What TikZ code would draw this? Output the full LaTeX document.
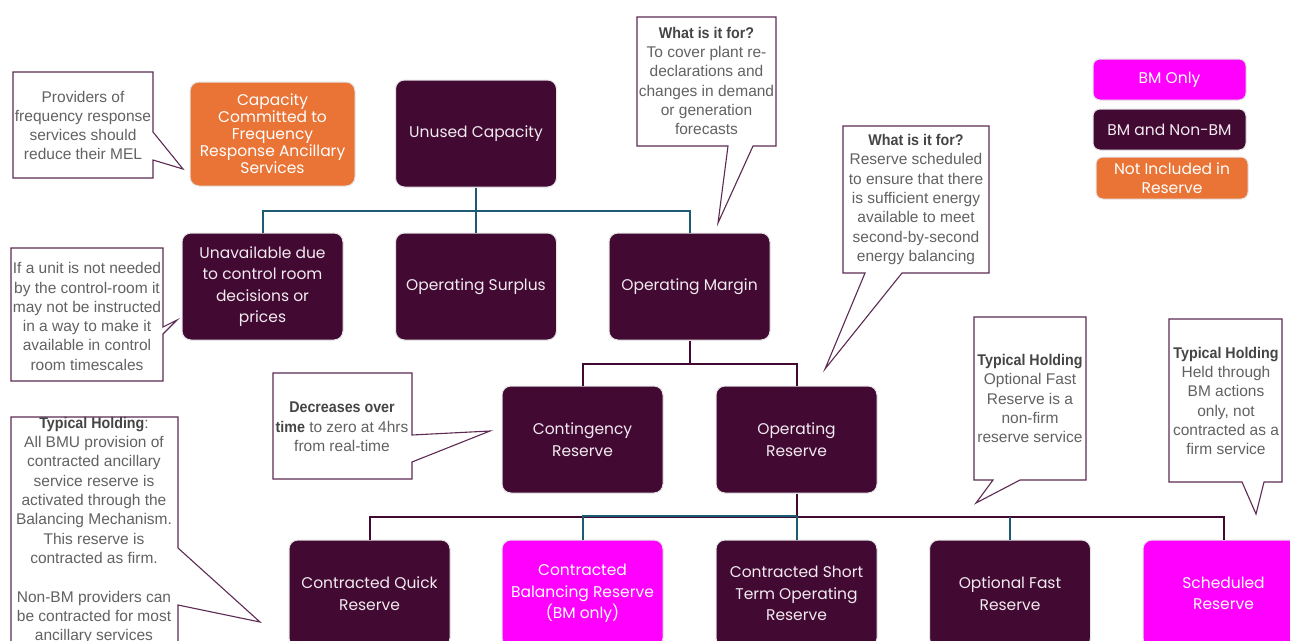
\documentclass[tikz,border=0pt]{standalone}
\usepackage{fontspec}
\setmainfont{Liberation Sans}
\newfontfamily\pop{Poppins}
\newfontfamily\semib[FakeStretch=0.92]{Liberation Sans}
\usetikzlibrary{calc}
\definecolor{dpurple}{HTML}{420A32}
\definecolor{orng}{HTML}{E97435}
\definecolor{magn}{HTML}{FF00FF}
\definecolor{tealc}{HTML}{1D5B74}
\definecolor{cborder}{HTML}{5C2A52}
\definecolor{ctext}{HTML}{626262}
\definecolor{chead}{HTML}{454545}
\definecolor{btext}{HTML}{F2EAF0}
\newcommand{\hd}[1]{\textcolor{chead}{\semib\bfseries #1}}
\begin{document}
\begin{tikzpicture}[x=1pt,y=-1pt,
 box/.style={rectangle, rounded corners=9pt, draw=black!10, line width=1pt, minimum width=161pt, minimum height=107pt, align=center, inner sep=2pt, font=\pop\fontsize{15.5}{21.5}\selectfont},
 dark/.style={box, fill=dpurple, text=btext},
 mag/.style={box, fill=magn, text=white},
 org/.style={box, fill=orng, text=white},
 leg/.style={minimum width=153pt, minimum height=41pt, rounded corners=7pt},
 call/.style={draw=cborder, line width=1.1pt, fill=white, line join=miter},
 ctxt/.style={align=center, text=ctext, font=\fontsize{15.5}{19.3}\selectfont, inner sep=0pt},
 tconn/.style={draw=tealc, line width=2pt},
 pconn/.style={draw=dpurple, line width=2pt},
]
\clip (0,0) rectangle (1290,640);
\fill[white] (0,0) rectangle (1290,640);

% boxes
\node[org, minimum width=165pt, minimum height=104pt, font=\pop\fontsize{15.5}{17}\selectfont] (cap) at (272.5,134) {Capacity\\Committed to\\Frequency\\Response Ancillary\\Services};
\node[dark] (unused) at (476,133.5) {Unused Capacity};
\node[dark] (unavail) at (262.5,286.5) {Unavailable due\\to control room\\decisions or\\prices};
\node[dark] (surplus) at (476,286.5) {Operating Surplus};
\node[dark] (margin) at (689.5,286.5) {Operating Margin};
\node[dark] (cont) at (582.5,439.5) {Contingency\\Reserve};
\node[dark] (opres) at (796.5,439.5) {Operating\\Reserve};
\node[dark] (cqr) at (369.5,593.5) {Contracted Quick\\Reserve};
\node[mag] (cbr) at (582.5,593.5) {Contracted\\Balancing Reserve\\(BM only)};
\node[dark] (cstor) at (796.5,593.5) {Contracted Short\\Term Operating\\Reserve};
\node[dark] (ofr) at (1010,593.5) {Optional Fast\\Reserve};
\node[mag] (sched) at (1223.5,593.5) {Scheduled\\Reserve};

% legend
\node[mag, leg] (l1) at (1169.5,79.5) {BM Only};
\node[dark, leg] (l2) at (1169.5,129.5) {BM and Non-BM};
\node[org, leg, minimum width=152pt, minimum height=42pt, font=\pop\fontsize{15.5}{19}\selectfont] (l3) at (1172,178) {Not Included in\\Reserve};

% connectors
\draw[tconn] (unused.south) -- ++(0,23) coordinate (j1) -| (unavail.north);
\draw[tconn] (j1) -| (margin.north);
\draw[tconn] (unused.south) -- (surplus.north);

\draw[pconn] (margin.south) -- ++(0,23) coordinate (j2) -| (cont.north);
\draw[pconn] (j2) -| (opres.north);

\draw[pconn] (opres.south) -- ++(0,23) coordinate (j3) -| (cqr.north);
\draw[pconn] (j3) -| (sched.north);
\draw[tconn] ([yshift=1pt]j3) -| (cbr.north);
\draw[tconn] ([yshift=1pt]j3) -- (cstor.north);
\draw[tconn] (ofr.north) -- (ofr.north |- j3);

% callouts
\draw[call] (13,72) -- (153,72) -- (153,132) -- (183,169) -- (153,160) -- (153,178) -- (13,178) -- cycle;
\node[ctxt] (t1) at (83,125.5) {Providers of\\frequency response\\services should\\reduce their MEL};

\draw[call] (11,248) -- (163,248) -- (163,327) -- (177,320) -- (163,334) -- (163,381) -- (11,381) -- cycle;
\node[ctxt] (t2) at (87,316.5) {If a unit is not needed\\by the control-room it\\may not be instructed\\in a way to make it\\available in control\\room timescales};

\draw[call] (637,17) -- (776,17) -- (776,146) -- (753,146) -- (718,223) -- (728,146) -- (637,146) -- cycle;
\node[ctxt] (t3) at (706.5,81) {\hd{What is it for?}\\To cover plant re-\\declarations and\\changes in demand\\or generation\\forecasts};

\draw[call] (843,126) -- (989,126) -- (989,273) -- (902,273) -- (825,369) -- (865,273) -- (843,273) -- cycle;
\node[ctxt] (t4) at (916,199.5) {\hd{What is it for?}\\Reserve scheduled\\to ensure that there\\is sufficient energy\\available to meet\\second-by-second\\energy balancing};

\draw[call] (273,373) -- (412,373) -- (412,435) -- (490,431) -- (412,462) -- (412,479) -- (273,479) -- cycle;
\node[ctxt] (t5) at (342,427) {\hd{Decreases over}\\\hd{time} to zero at 4hrs\\from real-time};

\draw[call] (974,317) -- (1086,317) -- (1086,480) -- (1020,480) -- (976,503) -- (993,480) -- (974,480) -- cycle;
\node[ctxt] (t6) at (1030,398.5) {\hd{Typical Holding}\\Optional Fast\\Reserve is a\\non-firm\\reserve service};

\draw[call] (1169,319) -- (1282,319) -- (1282,482) -- (1264,482) -- (1256,514) -- (1242,482) -- (1169,482) -- cycle;
\node[ctxt] (t7) at (1226,401) {\hd{Typical Holding}\\Held through\\BM actions\\only, not\\contracted as a\\firm service};

\draw[call] (11,417) -- (178,417) -- (178,548) -- (260,622) -- (178,605) -- (178,660) -- (11,660) -- cycle;
\node[ctxt] (t8) at (94,530.5) {\hd{Typical Holding}:\\All BMU provision of\\contracted ancillary\\service reserve is\\activated through the\\Balancing Mechanism.\\This reserve is\\contracted as firm.\\[19.3pt]Non-BM providers can\\be contracted for most\\ancillary services};
\end{tikzpicture}
\end{document}
